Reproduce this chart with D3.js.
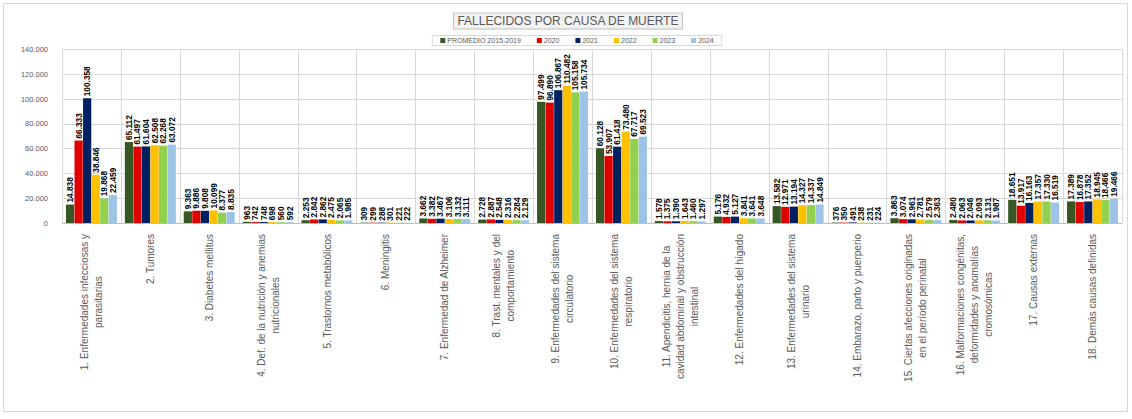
<!DOCTYPE html>
<html><head><meta charset="utf-8">
<script src="https://cdn.jsdelivr.net/npm/d3@7/dist/d3.min.js"></script>
<style>html,body{margin:0;padding:0;background:#fff;}svg{display:block;font-family:"Liberation Sans",Arial,sans-serif;}</style>
</head><body><svg id="c" width="1132" height="419"></svg>
<script>
const categories = [
  ["1. Enfermedades infecciosas y","parasitarias"],
  ["2. Tumores"],
  ["3. Diabetes mellitus"],
  ["4. Def. de la nutrición y anemias","nutricionales"],
  ["5. Trastornos metabólicos"],
  ["6. Meningitis"],
  ["7. Enfermedad de Alzheimer"],
  ["8. Trast. mentales y del","comportamiento"],
  ["9. Enfermedades del sistema","circulatorio"],
  ["10. Enfermedades del sistema","respiratorio"],
  ["11. Apendicitis, hernia de la","cavidad abdominal y obstrucción","intestinal"],
  ["12. Enfermedades del hígado"],
  ["13. Enfermedades del sistema","urinario"],
  ["14. Embarazo, parto y puerperio"],
  ["15. Ciertas afecciones originadas","en el período perinatal"],
  ["16. Malformaciones congénitas,","deformidades y anomalías","cromosómicas"],
  ["17. Causas externas"],
  ["18. Demás causas definidas"]
];
const seriesNames = ["PROMEDIO 2015-2019","2020","2021","2022","2023","2024"];
const seriesColors = ["#375623","#E00000","#002060","#FFC000","#92D050","#9DC3E6"];
const promedio = [14838,65112,9363,963,2253,309,3662,2728,97499,60128,1578,5176,13582,376,3863,2480,18651,17389];
const y2020    = [66333,61497,9886,742,2842,299,3382,2887,96890,53907,1375,4932,12971,350,3074,2063,13917,16878];
const y2021    = [100358,61604,9808,748,2862,288,3467,2548,106867,61418,1390,5127,13194,491,2961,2046,16163,17352];
const y2022    = [38846,62508,10099,698,2475,301,3106,2316,110482,73480,1643,3841,14327,238,2781,2093,17357,18945];
const y2023    = [19868,62268,8377,560,2065,221,3132,2284,105158,67717,1460,3641,14337,231,2579,2131,17330,18466];
const y2024    = [22459,63072,8835,592,1985,222,3111,2129,105734,69523,1297,3648,14849,224,2363,1987,16519,19466];
const yTicks = [0,20000,40000,60000,80000,100000,120000,140000];
const title = "FALLECIDOS POR CAUSA DE MUERTE";

const series = [promedio,y2020,y2021,y2022,y2023,y2024];
const loc = d3.formatLocale({decimal:",",thousands:".",grouping:[3],currency:["$",""]});
const fmt = loc.format(",d");

const svg = d3.select("#c");
svg.append("rect").attr("x",3.5).attr("y",3.5).attr("width",1124).attr("height",408)
  .attr("fill","#fff").attr("stroke","#d9d9d9");

const L=62,R=1122,T=49,B=223;
const x0 = d3.scaleBand().domain(d3.range(categories.length)).range([L,R]).paddingInner(0.134).paddingOuter(0.067);
const step = (R-L)/categories.length;
const x1 = d3.scaleBand().domain(d3.range(series.length)).range([0,x0.bandwidth()]).paddingInner(0.04);
const y = d3.scaleLinear().domain([0,140000]).range([B,T]);

// gridlines
svg.append("g").selectAll("line").data(yTicks).join("line")
  .attr("x1",L).attr("x2",R).attr("y1",d=>Math.round(y(d))+0.5).attr("y2",d=>Math.round(y(d))+0.5)
  .attr("stroke","#d9d9d9").attr("stroke-width",1);
svg.append("g").selectAll("line").data(d3.range(categories.length+1)).join("line")
  .attr("x1",d=>Math.round(L+d*step)+0.5).attr("x2",d=>Math.round(L+d*step)+0.5)
  .attr("y1",T).attr("y2",B).attr("stroke","#d9d9d9");

// y axis labels
const yAxis = d3.axisLeft(y).tickValues(yTicks).tickSize(0).tickPadding(0).tickFormat(d=>d===0?"0":fmt(d));
const ya = svg.append("g").attr("transform",`translate(48,0)`).call(yAxis);
ya.select(".domain").remove();
ya.selectAll("text").attr("fill","#595959").attr("font-size","7.5px").attr("font-family","Liberation Sans, Arial, sans-serif");

// bars
const groups = svg.append("g").selectAll("g").data(categories.map((c,i)=>i)).join("g")
  .attr("transform",i=>`translate(${x0(i)},0)`);
groups.selectAll("rect").data(i=>series.map((s,k)=>({k,v:s[i]}))).join("rect")
  .attr("x",d=>x1(d.k)).attr("width",x1.bandwidth())
  .attr("y",d=>y(d.v)).attr("height",d=>B-y(d.v))
  .attr("fill",d=>seriesColors[d.k]);
groups.selectAll("text").data(i=>series.map((s,k)=>({k,v:s[i]}))).join("text")
  .attr("transform",d=>`translate(${x1(d.k)+x1.bandwidth()/2},${y(d.v)-2}) rotate(-90)`)
  .attr("text-anchor","start").attr("dominant-baseline","central")
  .attr("font-size","8.3px").attr("font-weight","bold").attr("fill","#000")
  .text(d=>fmt(d.v));

// bottom axis line
svg.append("line").attr("x1",L).attr("x2",R).attr("y1",B+0.5).attr("y2",B+0.5).attr("stroke","#bfbfbf");

// category labels
const lineH = 14;
categories.forEach((lines,i)=>{
  const cx = x0(i)+x0.bandwidth()/2;
  const g = svg.append("g").attr("transform",`translate(${cx},234) rotate(-90)`);
  const ts = lines.map((t,j)=>g.append("text").attr("font-size","10px").attr("fill","#595959")
    .attr("text-anchor","middle").attr("dominant-baseline","central")
    .attr("y",(j-(lines.length-1)/2)*lineH).text(t));
  const maxLen = d3.max(ts,t=>t.node().getComputedTextLength());
  ts.forEach(t=>t.attr("x",-maxLen/2));
});

// title
const tg = svg.append("g");
const tt = tg.append("text").attr("x",568).attr("y",25).attr("text-anchor","middle")
  .attr("font-size","12px").attr("fill","#595959").text(title);
const tb = tt.node().getBBox();
tg.insert("rect","text").attr("x",tb.x-4).attr("y",tb.y-1).attr("width",tb.width+8).attr("height",tb.height+2)
  .attr("fill","#f2f2f2").attr("stroke","#bfbfbf");

// legend
const lg = svg.append("g");
const lgItems = lg.append("g");
let lx = 0;
seriesNames.forEach((n,k)=>{
  const it = lgItems.append("g");
  it.append("rect").attr("x",0).attr("y",-2.5).attr("width",5).attr("height",5).attr("fill",seriesColors[k]);
  const t = it.append("text").attr("x",7).attr("y",0).attr("dominant-baseline","central")
    .attr("font-size","7px").attr("fill","#595959").text(n);
  const w = 7 + t.node().getComputedTextLength();
  it.attr("transform",`translate(${lx},40.5)`);
  lx += w + 16;
});
const totalW = lx - 16;
const startX = 577 - totalW/2;
lg.attr("transform",`translate(${startX},0)`);
lg.insert("rect","g").attr("x",-8).attr("y",35.5).attr("width",totalW+16).attr("height",10)
  .attr("fill","#fff").attr("stroke","#d9d9d9");
</script></body></html>
